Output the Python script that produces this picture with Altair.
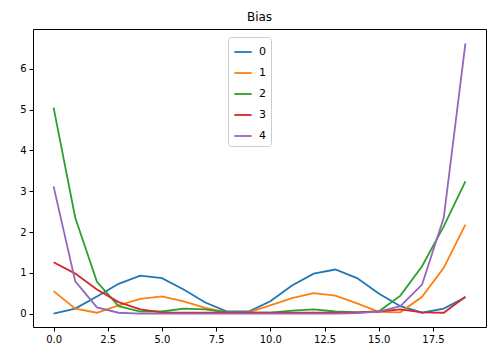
import altair as alt
import pandas as pd

x_vals = list(range(20))
s0 = [0.0, 0.12, 0.42, 0.73, 0.93, 0.87, 0.59, 0.27, 0.05, 0.05, 0.30, 0.69, 0.98, 1.08, 0.87, 0.49, 0.18, 0.02, 0.12, 0.40]
s1 = [0.55, 0.12, 0.02, 0.20, 0.36, 0.42, 0.30, 0.14, 0.03, 0.03, 0.20, 0.38, 0.50, 0.44, 0.25, 0.04, 0.03, 0.41, 1.12, 2.18]
s2 = [5.05, 2.35, 0.78, 0.18, 0.05, 0.05, 0.12, 0.10, 0.03, 0.02, 0.02, 0.07, 0.10, 0.05, 0.03, 0.05, 0.44, 1.16, 2.14, 3.24]
s3 = [1.26, 0.98, 0.59, 0.28, 0.10, 0.03, 0.02, 0.02, 0.02, 0.02, 0.02, 0.02, 0.02, 0.02, 0.03, 0.05, 0.10, 0.03, 0.02, 0.41]
s4 = [3.12, 0.79, 0.15, 0.02, 0.0, 0.0, 0.0, 0.0, 0.0, 0.0, 0.0, 0.0, 0.0, 0.0, 0.01, 0.05, 0.18, 0.71, 2.35, 6.63]
series_names = ["0", "1", "2", "3", "4"]
colors = ["#1f77b4", "#ff7f0e", "#2ca02c", "#d62728", "#9467bd"]
x_ticks = [0, 2.5, 5, 7.5, 10, 12.5, 15, 17.5]
y_ticks = [0, 1, 2, 3, 4, 5, 6]

rows = []
for name, vals in zip(series_names, [s0, s1, s2, s3, s4]):
    for x, v in zip(x_vals, vals):
        rows.append({"x": x, "y": v, "series": name})
df = pd.DataFrame(rows)

font = "DejaVu Sans"
chart = alt.Chart(df).mark_line(strokeWidth=1.8, clip=True).encode(
    x=alt.X("x:Q", scale=alt.Scale(domain=[-0.95, 19.95], nice=False, zero=False),
            axis=alt.Axis(values=x_ticks, format=".1f", title=None, grid=False,
                          tickSize=4, tickColor="black", domain=False,
                          labelColor="black", labelFontSize=10, labelFont=font, labelPadding=3)),
    y=alt.Y("y:Q", scale=alt.Scale(domain=[-0.33, 6.98], nice=False, zero=False),
            axis=alt.Axis(values=y_ticks, format="d", title=None, grid=False,
                          tickSize=4, tickColor="black", domain=False,
                          labelColor="black", labelFontSize=10, labelFont=font, labelPadding=3)),
    color=alt.Color("series:N", scale=alt.Scale(domain=series_names, range=colors),
                    legend=alt.Legend(title=None, orient="none", legendX=195, legendY=8,
                                      symbolType="stroke", symbolStrokeWidth=1.8, symbolSize=300,
                                      labelFontSize=11, labelFont=font, labelColor="black",
                                      strokeColor="#cccccc", fillColor="white", cornerRadius=3,
                                      padding=5, rowPadding=6, labelOffset=6)),
).properties(
    width=453, height=298,
    title=alt.TitleParams("Bias", fontSize=12, font=font, fontWeight="normal", color="black", offset=5),
    padding={"left": 25, "top": 21, "right": 5, "bottom": 24},
    autosize=alt.AutoSizeParams(type="none"),
).configure_view(stroke="black", strokeWidth=1)

chart.save("out.html", embed_options={"renderer": "svg", "actions": False})
